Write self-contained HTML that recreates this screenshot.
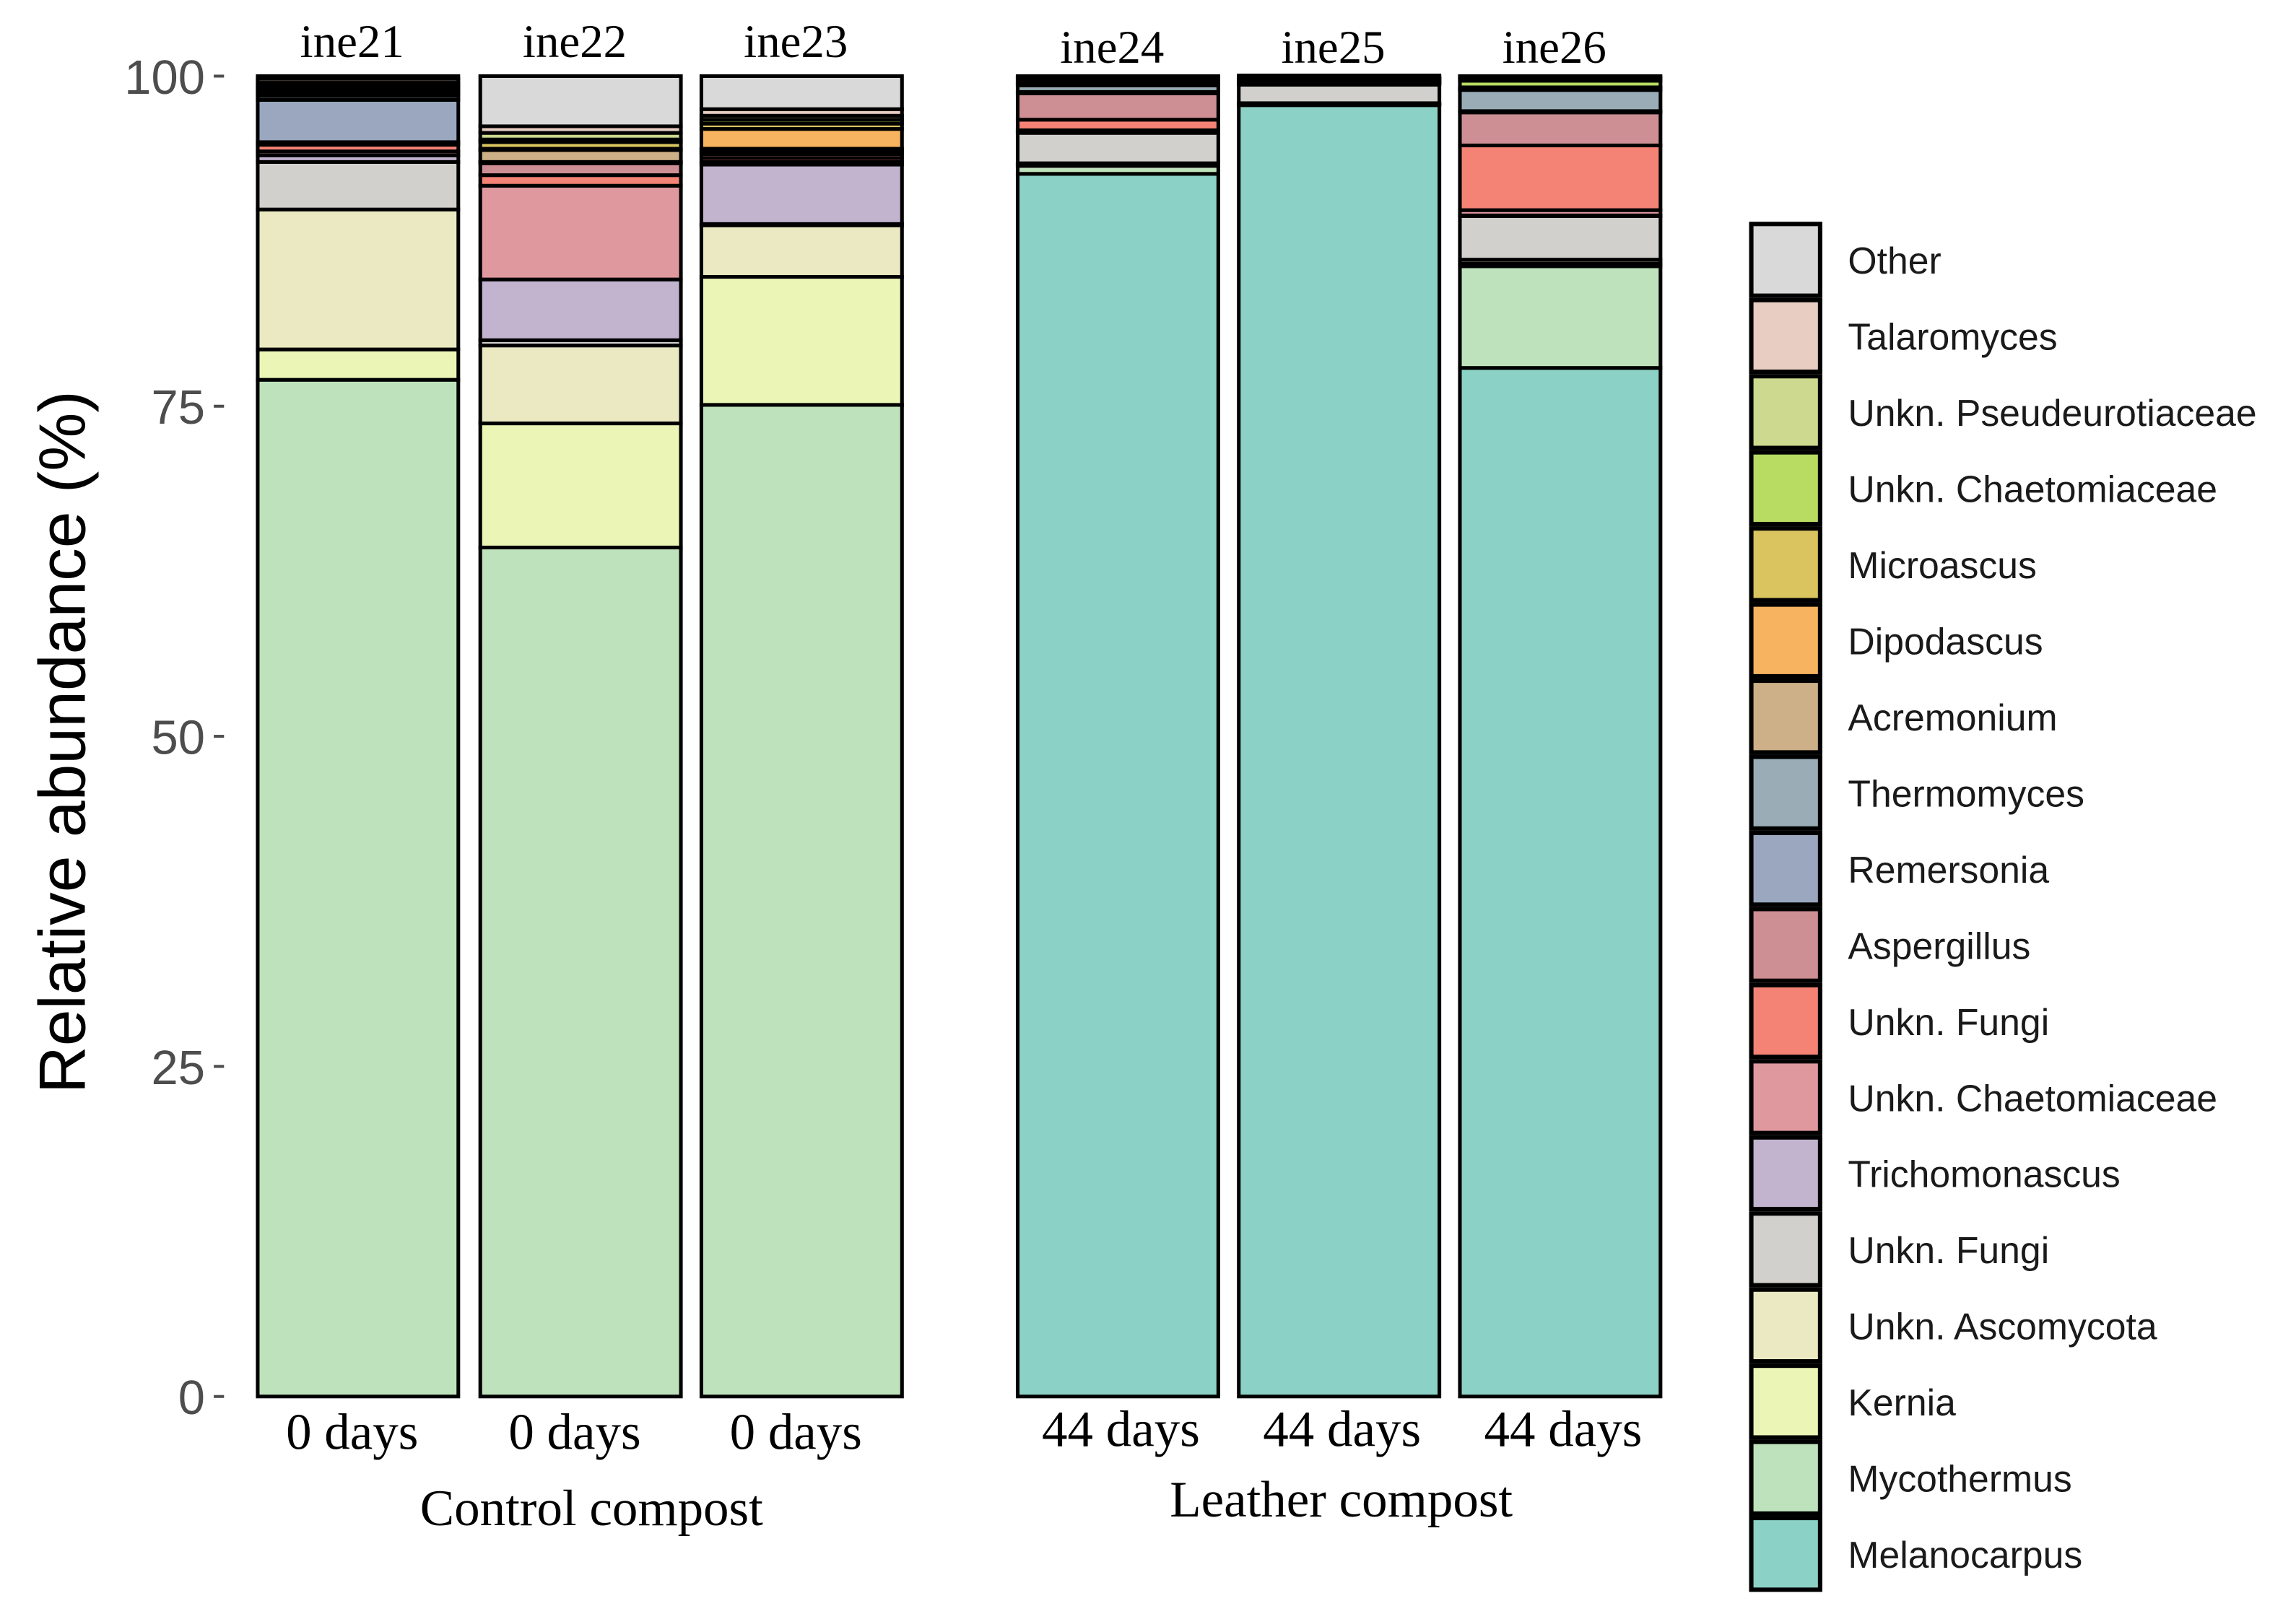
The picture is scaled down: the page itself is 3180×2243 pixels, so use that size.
<!DOCTYPE html>
<html><head><meta charset="utf-8"><style>
html,body{margin:0;padding:0;background:#fff}
svg{display:block}
</style></head><body>
<svg id="chart" width="3180" height="2243" viewBox="0 0 1568 1106" preserveAspectRatio="none" xmlns="http://www.w3.org/2000/svg">
<g id="yaxis"></g>
<g id="bars"></g>
<g id="labels"></g>
<g id="legend"></g>
<text transform="translate(58,507) rotate(-90)" text-anchor="middle" font-family="Liberation Sans, sans-serif" font-size="45" fill="#000">Relative abundance (%)</text>
<text x="404" y="1042" text-anchor="middle" font-family="Liberation Serif, serif" font-size="35" fill="#000">Control compost</text>
<text x="916" y="1036" text-anchor="middle" font-family="Liberation Serif, serif" font-size="35" fill="#000">Leather compost</text>
</svg>
<script>
const species = ["Melanocarpus","Mycothermus","Kernia","Unkn. Ascomycota","Unkn. Fungi","Trichomonascus","Unkn. Chaetomiaceae","Unkn. Fungi","Aspergillus","Remersonia","Thermomyces","Acremonium","Dipodascus","Microascus","Unkn. Chaetomiaceae","Unkn. Pseudeurotiaceae","Talaromyces","Other"];
const colors = ["#8cd1c6","#bee3bc","#ebf6b6","#ebe9c1","#d1d0cc","#c2b3cf","#e0989f","#f48375","#cd8f93","#9aa7bf","#9aadb6","#cdb087","#f7b35f","#d9c45f","#b8dc62","#ccd98f","#e8cdc2","#d9d9d9"];
const samples = ["ine21","ine22","ine23","ine24","ine25","ine26"];
const days = ["0 days","0 days","0 days","44 days","44 days","44 days"];
const ine21 = [0,77.0,2.3,10.6,3.6,0.5,0.3,0.5,0.2,3.2,0.3,0.2,0.2,0.2,0.2,0.2,0.3,0.2];
const ine22 = [0,64.3,9.4,5.9,0.4,4.6,7.1,0.8,0.9,0.05,0.05,0.9,0.1,0.5,0.2,0.5,0.5,3.8];
const ine23 = [0,75.1,9.7,3.9,0.1,4.5,0.2,0.3,0.3,0.1,0.2,0.1,1.5,0.4,0.3,0.3,0.5,2.5];
const ine24 = [92.6,0.6,0.1,0.1,2.3,0.1,0.1,0.8,2.0,0.1,0.5,0.1,0.1,0.1,0.2,0.1,0.05,0.05];
const ine25 = [97.8,0.05,0.05,0.05,1.4,0.05,0.05,0.05,0.05,0.05,0.05,0.05,0.05,0.05,0.05,0.05,0.05,0.1];
const ine26 = [77.9,7.7,0.2,0.3,3.3,0.05,0.4,4.9,2.5,0.1,1.6,0.05,0.05,0.1,0.5,0.15,0.1,0.1];
const yTicks = [0,25,50,75,100];

const values = [ine21,ine22,ine23,ine24,ine25,ine26];
const NS="http://www.w3.org/2000/svg";
const barX = [176,328,479,695,846,997];
const barW = 137;
function y(v){ return 954 - v*9.02; }
function mk(tag, attrs, parent){ const e=document.createElementNS(NS,tag); for(const k in attrs) e.setAttribute(k,attrs[k]); parent.appendChild(e); return e; }

const yaxis=document.getElementById('yaxis');
yTicks.forEach(t=>{
  const tk=mk('line',{x1:146,x2:153,y1:y(t),y2:y(t),stroke:'#4d4d4d','stroke-width':2},yaxis);
  
  
  const tx=mk('text',{x:140,y:y(t)+12,'text-anchor':'end','font-family':'Liberation Sans, sans-serif','font-size':33,fill:'#4d4d4d'},yaxis);
  tx.textContent=t;
  
  
});

const bars=document.getElementById('bars');
const labels=document.getElementById('labels');
values.forEach((vals,i)=>{
  const g=mk('g',{},bars);
  
  
  let cum=0;
  vals.forEach((v,j)=>{
    if(v<=0) return;
    const r=mk('rect',{x:barX[i],y:y(cum+v),width:barW,height:v*9.02,fill:colors[j],stroke:'#000','stroke-width':2.5},g);
    
    
    cum+=v;
  });
  const cx=barX[i]+barW/2;
  const t1=mk('text',{x:cx-4,y:i<3?39:43,'text-anchor':'middle','font-family':'Liberation Serif, serif','font-size':32,fill:'#000'},labels);
  t1.textContent=samples[i];
  
  
  const t2=mk('text',{x:cx-(i<3?4:-2),y:i<3?990:988,'text-anchor':'middle','font-family':'Liberation Serif, serif','font-size':35,fill:'#000'},labels);
  t2.textContent=days[i];
  
  
});

const legend=document.getElementById('legend');
for(let k=0;k<species.length;k++){
  const j=species.length-1-k;
  const ty=152+k*52;
  const g=mk('g',{},legend);
  
  
  mk('rect',{x:1196,y:ty+1,width:47,height:49,fill:colors[j],stroke:'#000','stroke-width':3},g);
  const t=mk('text',{x:1262,y:ty+35,'font-family':'Liberation Sans, sans-serif','font-size':25.5,fill:'#1a1a1a'},g);
  t.textContent=species[j];
}
</script>
</body></html>
